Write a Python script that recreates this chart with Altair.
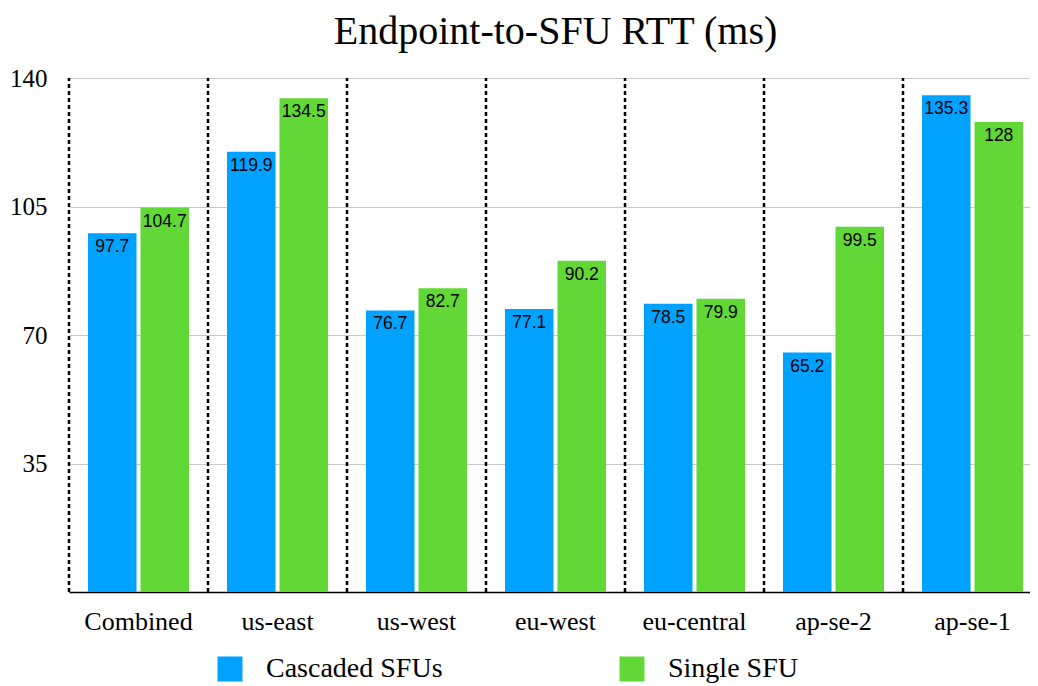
import altair as alt
import pandas as pd

regions = ["Combined", "us-east", "us-west", "eu-west", "eu-central", "ap-se-2", "ap-se-1"]
cascaded = [97.7, 119.9, 76.7, 77.1, 78.5, 65.2, 135.3]
single = [104.7, 134.5, 82.7, 90.2, 79.9, 99.5, 128]
series = ["Cascaded SFUs", "Single SFU"]
colors = ["#00A2FF", "#61D836"]
y_ticks = [35, 70, 105, 140]

rows = []
for r, c, s in zip(regions, cascaded, single):
    rows.append({"region": r, "series": series[0], "value": c, "label": f"{c:g}"})
    rows.append({"region": r, "series": series[1], "value": s, "label": f"{s:g}"})
df = pd.DataFrame(rows)
sep = pd.DataFrame({"region": regions})

SERIF = "Liberation Serif"
SANS = "Liberation Sans"

x_scale = alt.Scale(domain=regions, range=[0, 973], paddingInner=0, paddingOuter=0)
y_scale = alt.Scale(domain=[0, 140], nice=False)
off_scale = alt.Scale(domain=series, paddingInner=0.076, paddingOuter=0.362)

x_axis = alt.Axis(title=None, labelAngle=0, labelFont=SERIF, labelFontSize=26,
                  labelColor="black", labelPadding=16, ticks=False, domain=True,
                  domainColor="black", domainWidth=1.5, grid=False)
y_axis = alt.Axis(title=None, values=y_ticks, labelFont=SERIF, labelFontSize=25,
                  labelColor="black", labelPadding=22, ticks=False, domain=False,
                  grid=True, gridColor="#c8c8c8", gridWidth=1.2)

x_enc = alt.X("region:N", scale=x_scale, axis=x_axis)
off_enc = alt.XOffset("series:N", scale=off_scale)
y_enc = alt.Y("value:Q", scale=y_scale, axis=y_axis)

bars = alt.Chart(df).mark_bar().encode(
    x=x_enc,
    xOffset=off_enc,
    y=y_enc,
    color=alt.Color(
        "series:N",
        scale=alt.Scale(domain=series, range=colors),
        legend=alt.Legend(title=None, orient="none", legendX=147, legendY=577,
                          direction="horizontal", columns=2, symbolType="square",
                          symbolSize=625, symbolStrokeWidth=0, labelFont=SERIF,
                          labelFontSize=28, labelColor="black", labelOffset=22,
                          columnPadding=175, labelLimit=400, padding=0),
    ),
)

text = alt.Chart(df).mark_text(font=SANS, fontSize=17.5, baseline="alphabetic",
                               dy=19, color="black").encode(
    x=x_enc, xOffset=off_enc, y=y_enc, text="label:N"
)

rules = alt.Chart(sep).mark_rule(color="black", strokeWidth=2.5, strokeDash=[4, 3]).encode(
    x=alt.X("region:N", scale=x_scale, axis=x_axis, bandPosition=0),
    y=alt.datum(0),
    y2=alt.datum(140),
)

chart = alt.layer(bars, text, rules).properties(
    width=961,
    height=514,
    autosize=alt.AutoSizeParams(type="none"),
    padding={"left": 61, "top": 70, "right": 0, "bottom": 93},
    title=alt.TitleParams("Endpoint-to-SFU RTT (ms)", font=SERIF, fontSize=40,
                          fontWeight="normal", color="black", anchor="middle",
                          frame="group", offset=14, dx=6),
    background="white",
).configure_view(stroke=None)

chart.save("out.html", embed_options={"renderer": "svg", "actions": False})
